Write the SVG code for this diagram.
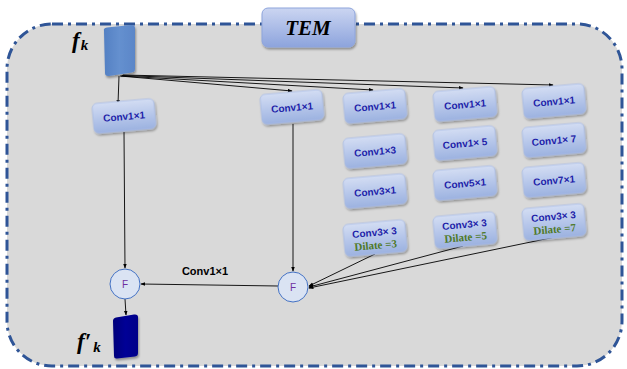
<svg xmlns="http://www.w3.org/2000/svg" width="627" height="369" viewBox="0 0 627 369">
<defs>
<linearGradient id="gBox" x1="0" y1="0" x2="0" y2="1">
<stop offset="0" stop-color="#D3DDF3"/>
<stop offset="0.5" stop-color="#B7C7EA"/>
<stop offset="1" stop-color="#9CB2E0"/>
</linearGradient>
<linearGradient id="gTem" x1="0" y1="0" x2="0" y2="1">
<stop offset="0" stop-color="#CBD5F1"/>
<stop offset="1" stop-color="#8DA4DD"/>
</linearGradient>
<linearGradient id="gFk" x1="0" y1="0" x2="1" y2="0">
<stop offset="0" stop-color="#5380C3"/>
<stop offset="0.5" stop-color="#6590CF"/>
<stop offset="1" stop-color="#5A86C8"/>
</linearGradient>
<linearGradient id="gFo" x1="0" y1="0" x2="1" y2="0">
<stop offset="0" stop-color="#00007A"/>
<stop offset="0.5" stop-color="#000096"/>
<stop offset="1" stop-color="#000088"/>
</linearGradient>
<filter id="sh" x="-20%" y="-20%" width="140%" height="150%">
<feDropShadow dx="1" dy="2" stdDeviation="1" flood-color="#000" flood-opacity="0.35"/>
</filter>
<marker id="ah" viewBox="0 0 8 8" refX="7" refY="4" markerWidth="5" markerHeight="5" orient="auto" markerUnits="userSpaceOnUse">
<path d="M0,1 L8,4 L0,7 Z" fill="#000"/>
</marker>
</defs>
<style>
.box{fill:url(#gBox);stroke:#A8BBE5;stroke-width:0.8;filter:url(#sh)}
.bt{font-family:"Liberation Sans",Arial,sans-serif;font-weight:bold;font-size:10px;fill:#1C1CA8;text-anchor:middle}
.dt{font-family:"Liberation Serif","Times New Roman",serif;font-weight:bold;font-size:11px;fill:#4F7A28;text-anchor:middle}
.ln{stroke:#000;stroke-width:0.9;fill:none}
.ar{marker-end:url(#ah)}
.fc{fill:#DAE3F3;stroke:#4472C4;stroke-width:1}
.ft{font-family:"Liberation Sans",Arial,sans-serif;font-size:10px;fill:#7030A0;text-anchor:middle}
.lab{font-family:"Liberation Serif","Times New Roman",serif;font-weight:bold;font-style:italic;fill:#000}
</style>

<g id="container">
<rect x="7" y="24" width="615" height="342" rx="45" ry="45" fill="#D9D9D9" stroke="#2F5597" stroke-width="3" stroke-dasharray="11,5,3,5"/>
</g>

<g id="tem">
<rect x="262" y="8" width="93" height="39" rx="6" fill="url(#gTem)" stroke="#8EA5DC" stroke-width="1" filter="url(#sh)"/>
<text x="308" y="35" class="lab" font-size="21" text-anchor="middle">TEM</text>
</g>

<g id="fk">
<path d="M104,31 Q103,28 107,27.5 L131,25 Q135,24.6 135,28 L135,69 Q135,72 132,72.5 L109,76 Q105,76.5 105,73 Z" fill="url(#gFk)" filter="url(#sh)"/>
<text x="72" y="48" class="lab" font-size="23">f<tspan font-size="15" dx="1" dy="2">k</tspan></text>
</g>

<g id="fko">
<path d="M113,321 Q113,318 116,317.5 L134,314.5 Q138,314 138,317 L138,353 Q138,356 135,356.5 L117,358.5 Q114,359 114,356 Z" fill="url(#gFo)" filter="url(#sh)"/>
<text x="77" y="349" class="lab" font-size="23">f′<tspan font-size="15" dx="2" dy="3">k</tspan></text>
</g>

<g id="connectors">
<line class="ln ar" x1="119" y1="76" x2="118" y2="104"/>
<line class="ln ar" x1="120" y1="76" x2="292" y2="91"/>
<line class="ln ar" x1="121" y1="76" x2="373" y2="90"/>
<line class="ln ar" x1="122" y1="75.5" x2="463" y2="88"/>
<line class="ln ar" x1="123" y1="75" x2="553" y2="85"/>
<line class="ln ar" x1="124" y1="132" x2="125" y2="268"/>
<line class="ln ar" x1="293" y1="124" x2="293" y2="271"/>
<line class="ln ar" x1="375" y1="254" x2="309" y2="286"/>
<line class="ln ar" x1="463" y1="246" x2="309" y2="287"/>
<line class="ln ar" x1="555" y1="237" x2="309" y2="288"/>
<line class="ln ar" x1="278" y1="286" x2="141" y2="284"/>
<line class="ln ar" x1="125" y1="299" x2="126" y2="315"/>
<text x="205" y="275" font-family="'Liberation Sans',Arial,sans-serif" font-weight="bold" font-size="11" fill="#000" text-anchor="middle">Conv1×1</text>
</g>

<g id="F1"><circle class="fc" cx="125" cy="284" r="15"/><text class="ft" x="125" y="288">F</text></g>
<g id="F2"><circle class="fc" cx="293" cy="287" r="15"/><text class="ft" x="293" y="291">F</text></g>

<g id="b1" transform="translate(124,116) rotate(-5)"><rect class="box" x="-31" y="-15" width="62" height="30" rx="5"/><text class="bt" y="4">Conv1×1</text></g>
<g id="b2" transform="translate(292,107) rotate(-5)"><rect class="box" x="-31" y="-15" width="62" height="30" rx="5"/><text class="bt" y="4">Conv1×1</text></g>

<g id="c3r1" transform="translate(375,106) rotate(-5)"><rect class="box" x="-31" y="-15" width="62" height="30" rx="5"/><text class="bt" y="4">Conv1×1</text></g>
<g id="c4r1" transform="translate(465,104) rotate(-5)"><rect class="box" x="-31" y="-15" width="62" height="30" rx="5"/><text class="bt" y="4">Conv1×1</text></g>
<g id="c5r1" transform="translate(554,101) rotate(-5)"><rect class="box" x="-31" y="-15" width="62" height="30" rx="5"/><text class="bt" y="4">Conv1×1</text></g>

<g id="c3r2" transform="translate(375,151) rotate(-5)"><rect class="box" x="-31" y="-15" width="62" height="30" rx="5"/><text class="bt" y="4">Conv1×3</text></g>
<g id="c4r2" transform="translate(465,143) rotate(-5)"><rect class="box" x="-31" y="-15" width="62" height="30" rx="5"/><text class="bt" y="4">Conv1× 5</text></g>
<g id="c5r2" transform="translate(554,140) rotate(-5)"><rect class="box" x="-31" y="-15" width="62" height="30" rx="5"/><text class="bt" y="4">Conv1× 7</text></g>

<g id="c3r3" transform="translate(375,191) rotate(-5)"><rect class="box" x="-31" y="-15" width="62" height="30" rx="5"/><text class="bt" y="4">Conv3×1</text></g>
<g id="c4r3" transform="translate(465,183) rotate(-5)"><rect class="box" x="-31" y="-15" width="62" height="30" rx="5"/><text class="bt" y="4">Conv5×1</text></g>
<g id="c5r3" transform="translate(554,180) rotate(-5)"><rect class="box" x="-31" y="-15" width="62" height="30" rx="5"/><text class="bt" y="4">Conv7×1</text></g>

<g id="c3r4" transform="translate(375,238) rotate(-5)"><rect class="box" x="-31" y="-16" width="62" height="32" rx="5"/><text class="bt" y="-2">Conv3× 3</text><text class="dt" y="11">Dilate =3</text></g>
<g id="c4r4" transform="translate(465,230) rotate(-5)"><rect class="box" x="-31" y="-16" width="62" height="32" rx="5"/><text class="bt" y="-2">Conv3× 3</text><text class="dt" y="11">Dilate =5</text></g>
<g id="c5r4" transform="translate(554,222) rotate(-5)"><rect class="box" x="-31" y="-16" width="62" height="32" rx="5"/><text class="bt" y="-2">Conv3× 3</text><text class="dt" y="11">Dilate =7</text></g>
</svg>
